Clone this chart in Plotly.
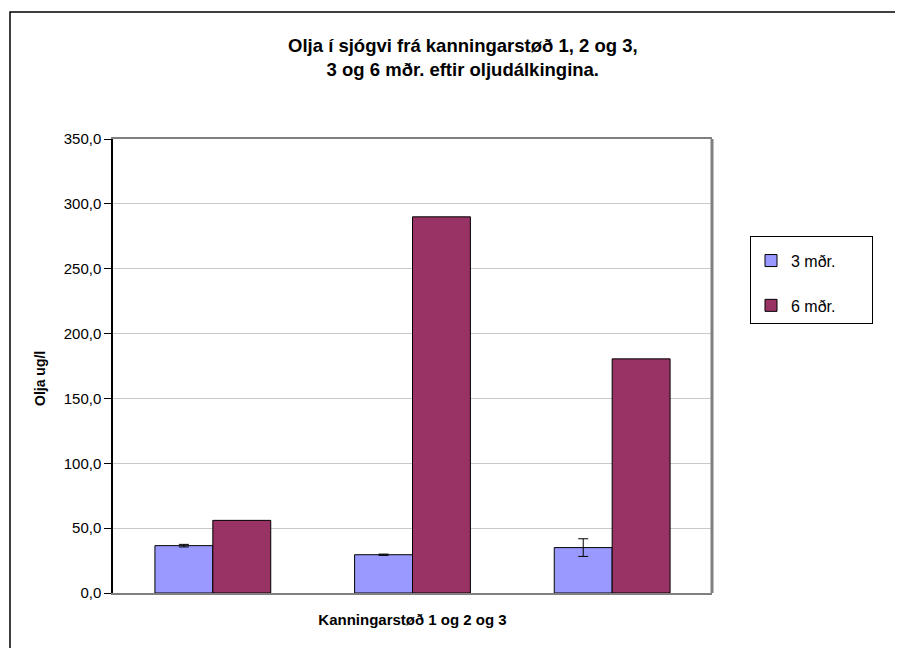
import plotly.graph_objects as go

# -- data --
stations = ["1", "2", "3"]
months_3 = [36.5, 29.5, 35.0]
months_3_err = [1.0, 0.5, 6.8]
months_6 = [56.0, 290.0, 180.5]

FONT = "Liberation Sans, Arial, sans-serif"
PAD = "\u00a0" * 7  # widen legend box like the original

fig = go.Figure()
fig.add_trace(go.Bar(
    x=stations, y=months_3, name="3 mðr." + PAD,
    marker=dict(color="#9999FF", line=dict(color="#000000", width=1)),
    error_y=dict(type="data", array=months_3_err, color="#000000", thickness=1, width=5),
    legendgroup="a",
))
fig.add_trace(go.Bar(
    x=stations, y=months_6, name="6 mðr." + PAD,
    marker=dict(color="#993366", line=dict(color="#000000", width=1)),
    legendgroup="b",
))

fig.update_layout(
    width=903, height=648,
    margin=dict(l=105, r=199, t=131, b=63),
    paper_bgcolor="white", plot_bgcolor="white",
    font=dict(family=FONT, size=15, color="#000000"),
    separators=", ",
    barmode="group", bargap=0.42, bargroupgap=0,
    title=dict(
        text="<b>Olja í sjógvi frá kanningarstøð 1, 2 og 3,<br>3 og 6 mðr. eftir oljudálkingina.</b>",
        x=0.584, xref="paper", xanchor="center",
        y=1 - 44 / 648, yref="container", yanchor="middle",
        font=dict(size=18.5),
    ),
    xaxis=dict(
        showticklabels=False, ticks="",
        showline=True, linecolor="#808080", linewidth=2, mirror=True,
        title=dict(text="<b>Kanningarstøð 1 og 2 og 3</b>", font=dict(size=15), standoff=20),
    ),
    yaxis=dict(
        range=[0, 350], dtick=50, tickformat=".1f",
        showgrid=True, gridcolor="#C8C8C8", gridwidth=1,
        showline=True, linecolor="#000000", linewidth=1.5,
        ticks="outside", ticklen=7, tickcolor="#000000",
        zeroline=False,
    ),
    annotations=[
        dict(text="<b>Olja ug/l</b>", textangle=-90, showarrow=False,
             xref="paper", yref="paper", x=(32 - 105) / 599, y=(585 - 371) / 454,
             xanchor="center", yanchor="middle", font=dict(size=14)),
    ],
    legend=dict(
        x=(742 - 105) / 599, xanchor="left", y=0.786, yanchor="top",
        bordercolor="#000000", borderwidth=1,
        traceorder="grouped", tracegroupgap=21,
        font=dict(size=16),
        title=dict(text="\u00a0", font=dict(size=5)),
        itemclick=False,
    ),
    shapes=[
        # gray right edge of the plot frame
        dict(type="line", xref="paper", yref="paper", x0=1, x1=1, y0=0, y1=1,
             line=dict(color="#808080", width=3)),
        # outer chart frame (right and bottom edges run off the picture)
        dict(type="rect", xref="paper", yref="paper",
             x0=(2 - 105) / 599, x1=1.6, y0=-0.3, y1=(585 - 4) / 454,
             line=dict(color="#000000", width=1.5)),
    ],
)

fig.write_html("out.html")
